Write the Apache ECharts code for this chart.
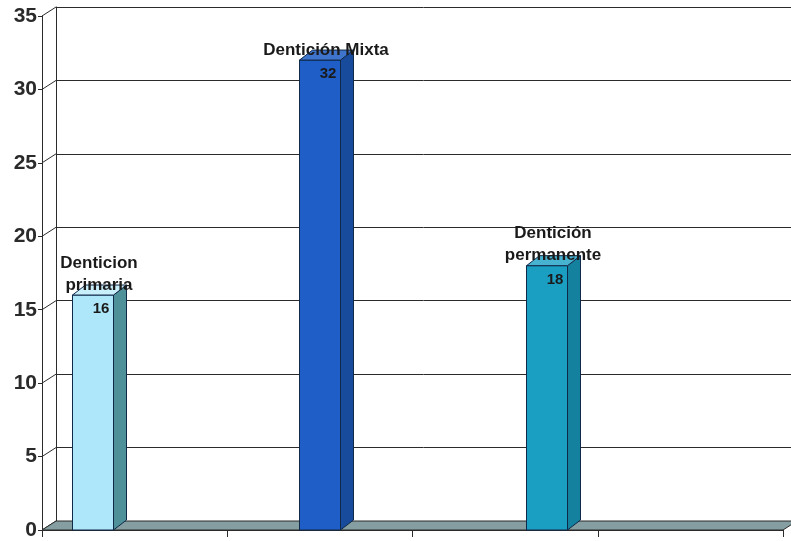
<!DOCTYPE html>
<html>
<head>
<meta charset="utf-8">
<script src="https://cdn.jsdelivr.net/npm/echarts@6/dist/echarts.min.js"></script>
<style>
  html, body { margin: 0; padding: 0; background: #fff; }
  #chart { width: 791px; height: 541px; }
</style>
</head>
<body>
<div id="chart"></div>
<script>
// datos
const categories = ['Denticion\nprimaria', 'Dentición Mixta', 'Dentición\npermanente'];
const values = [16, 32, 18];
const yTicks = [0, 5, 10, 15, 20, 25, 30, 35];

// colores de cada barra: frente, lado, tapa
const barColors = [
  ['#aee6fa', '#4f9198', '#c9effb'],
  ['#1f5ec6', '#184b9c', '#3f74cc'],
  ['#1a9fc3', '#14819f', '#48b3d0']
];

const DX = 14, DY = -9;      // profundidad de la pared
const BDX = 13, BDY = -10;   // profundidad de las barras
const BAR_W = 41;
const lineColor = '#2b2b2b';
const font = 'Liberation Sans, Arial, sans-serif';

const chart = echarts.init(document.getElementById('chart'));

function renderFloor(params, api) {
  const a = api.coord([0, 0]);
  const b = api.coord([4, 0]);
  return {
    type: 'polygon',
    shape: { points: [a, b, [b[0] + DX, b[1] + DY], [a[0] + DX, a[1] + DY]] },
    style: { fill: '#859ea1', stroke: lineColor, lineWidth: 1 }
  };
}

function renderDiag(params, api) {
  const p = api.coord([0, api.value(0)]);
  return {
    type: 'line',
    shape: { x1: p[0], y1: p[1], x2: p[0] + DX, y2: p[1] + DY },
    style: { stroke: lineColor, lineWidth: 1 }
  };
}

function renderBar(params, api) {
  const i = params.dataIndex;
  const base = api.coord([i, 0]);
  const top = api.coord([i, api.value(1)]);
  const x0 = base[0] - BAR_W / 2;
  const x1 = x0 + BAR_W;
  const c = barColors[i];
  return {
    type: 'group',
    children: [
      {
        type: 'rect',
        shape: { x: x0, y: top[1], width: BAR_W, height: base[1] - top[1] },
        style: { fill: c[0], stroke: '#10284a', lineWidth: 1 }
      },
      {
        type: 'polygon',
        shape: { points: [[x1, top[1]], [x1 + BDX, top[1] + BDY], [x1 + BDX, base[1] + BDY], [x1, base[1]]] },
        style: { fill: c[1], stroke: '#10284a', lineWidth: 1 }
      },
      {
        type: 'polygon',
        shape: { points: [[x0, top[1]], [x0 + BDX, top[1] + BDY], [x1 + BDX, top[1] + BDY], [x1, top[1]]] },
        style: { fill: c[2], stroke: '#10284a', lineWidth: 1 }
      },
      {
        type: 'text',
        style: {
          text: String(api.value(1)),
          x: base[0] + 8, y: top[1] + 14,
          align: 'center', verticalAlign: 'middle',
          font: 'bold 15px ' + font, fill: '#1a1a1a'
        }
      },
      {
        type: 'text',
        style: {
          text: categories[i],
          x: base[0] + 6, y: top[1] + 1,
          align: 'center', verticalAlign: 'bottom',
          lineHeight: 22,
          font: 'bold 17px ' + font, fill: '#1a1a1a'
        }
      }
    ]
  };
}

const option = {
  animation: false,
  grid: [
    { left: 56, right: 0, top: 7, bottom: 20 },   // pared del fondo
    { left: 42, right: 8, top: 16, bottom: 11 },  // frente
    { left: 93, width: 454, top: 16, bottom: 11 } // barras
  ],
  xAxis: [
    { gridIndex: 0, type: 'value', min: 0, max: 4, show: false },
    {
      gridIndex: 1, type: 'value', min: 0, max: 4, interval: 1,
      axisLine: { show: true, lineStyle: { color: lineColor } },
      axisTick: { show: true, length: 7, lineStyle: { color: lineColor } },
      axisLabel: { show: false },
      splitLine: { show: false }
    },
    { gridIndex: 2, type: 'category', data: categories, boundaryGap: false, show: false }
  ],
  yAxis: [
    {
      gridIndex: 0, type: 'value', min: 0, max: 35, interval: 5,
      axisLine: { show: true, lineStyle: { color: lineColor } },
      axisTick: { show: false },
      axisLabel: { show: false },
      splitLine: { show: true, lineStyle: { color: lineColor, width: 1 } }
    },
    {
      gridIndex: 1, type: 'value', min: 0, max: 35, interval: 5,
      axisLine: { show: true, lineStyle: { color: lineColor } },
      axisTick: { show: true, length: 4, lineStyle: { color: lineColor } },
      axisLabel: { margin: 5, fontFamily: font, fontWeight: 'bold', fontSize: 21, color: '#2a2a2a' },
      splitLine: { show: false }
    },
    { gridIndex: 2, type: 'value', min: 0, max: 35, show: false }
  ],
  series: [
    {
      type: 'custom', xAxisIndex: 1, yAxisIndex: 1,
      renderItem: renderDiag, clip: false,
      data: yTicks.map(v => [v])
    },
    {
      type: 'custom', xAxisIndex: 1, yAxisIndex: 1,
      renderItem: renderFloor, clip: false,
      data: [[0]]
    },
    {
      type: 'custom', xAxisIndex: 2, yAxisIndex: 2,
      renderItem: renderBar, clip: false,
      data: values.map((v, i) => [i, v])
    }
  ]
};

chart.setOption(option);
</script>
</body>
</html>
